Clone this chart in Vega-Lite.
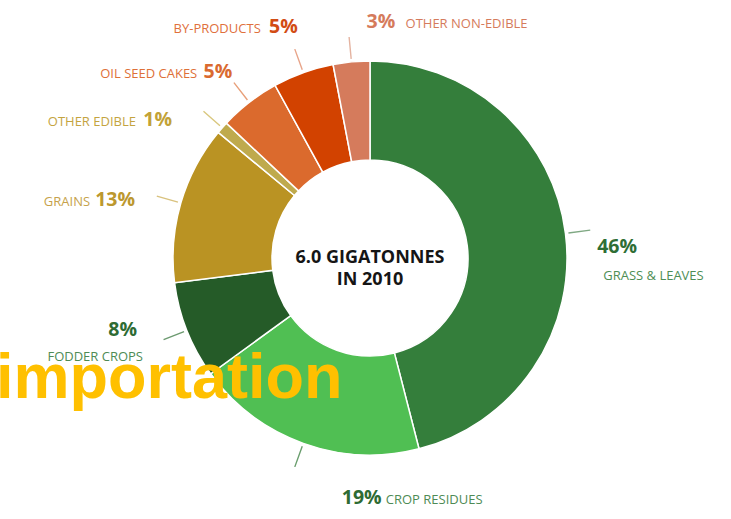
{
  "$schema": "https://vega.github.io/schema/vega-lite/v6.json",
  "width": 722,
  "height": 516,
  "autosize": {"type": "none"},
  "padding": {"left": 9, "top": 0, "right": 0, "bottom": 3},
  "background": "white",
  "config": {"view": {"stroke": null}},
  "title": {
    "text": "importation",
    "anchor": "start",
    "frame": "group",
    "orient": "top",
    "offset": 0,
    "baseline": "alphabetic",
    "dy": 461,
    "dx": -13,
    "font": "Liberation Sans",
    "fontWeight": "bold",
    "fontSize": 63,
    "color": "#FFC000"
  },
  "data": {
    "values": [
      {"cat": "GRASS & LEAVES", "pct": 46, "pctText": "46%", "idx": 1},
      {"cat": "CROP RESIDUES", "pct": 19, "pctText": "19%", "idx": 2},
      {"cat": "FODDER CROPS", "pct": 8, "pctText": "8%", "idx": 3},
      {"cat": "GRAINS", "pct": 13, "pctText": "13%", "idx": 4},
      {"cat": "OTHER EDIBLE", "pct": 1, "pctText": "1%", "idx": 5},
      {"cat": "OIL SEED CAKES", "pct": 5, "pctText": "5%", "idx": 6},
      {"cat": "BY-PRODUCTS", "pct": 5, "pctText": "5%", "idx": 7},
      {"cat": "OTHER NON-EDIBLE", "pct": 3, "pctText": "3%", "idx": 8}
    ]
  },
  "layer": [
    {
      "mark": {"type": "arc", "outerRadius": 197, "innerRadius": 98, "stroke": "white", "strokeWidth": 1.5},
      "encoding": {
        "theta": {"field": "pct", "type": "quantitative", "stack": true},
        "order": {"field": "idx", "type": "quantitative"},
        "color": {
          "field": "cat", "type": "nominal", "legend": null,
          "scale": {
            "domain": ["GRASS & LEAVES", "CROP RESIDUES", "FODDER CROPS", "GRAINS", "OTHER EDIBLE", "OIL SEED CAKES", "BY-PRODUCTS", "OTHER NON-EDIBLE"],
            "range": ["#347E3B", "#50BF53", "#255B28", "#BA9323", "#BFAA4D", "#DB6A2D", "#D24200", "#D57B5C"]
          }
        }
      }
    },
    {
      "mark": {"type": "arc", "filled": false, "padAngle": 3, "strokeWidth": 1.4},
      "encoding": {
        "theta": {"field": "pct", "type": "quantitative", "stack": true},
        "order": {"field": "idx", "type": "quantitative"},
        "radius": {"value": 222},
        "radius2": {"value": 200},
        "color": {
          "field": "cat", "type": "nominal", "legend": null,
          "scale": {
            "domain": ["GRASS & LEAVES", "CROP RESIDUES", "FODDER CROPS", "GRAINS", "OTHER EDIBLE", "OIL SEED CAKES", "BY-PRODUCTS", "OTHER NON-EDIBLE"],
            "range": ["#7FA883", "#6A9E6E", "#6C9A70", "#D9C27E", "#D9C77E", "#E8A07A", "#E8A58A", "#E4B3A0"]
          }
        }
      }
    },
    {
      "mark": {
        "type": "text",
        "radius": 228,
        "font": "Open Sans",
        "fontWeight": "bold",
        "fontSize": 19.5,
        "baseline": "alphabetic",
        "align": {"expr": "indexof(['GRASS & LEAVES','CROP RESIDUES','OTHER NON-EDIBLE'], datum.cat) >= 0 ? 'left' : 'right'"},
        "dx": {"expr": "({'GRASS & LEAVES': 1, 'CROP RESIDUES': 49, 'FODDER CROPS': -21, 'GRAINS': -16, 'OTHER EDIBLE': -27, 'OIL SEED CAKES': 2, 'BY-PRODUCTS': 5, 'OTHER NON-EDIBLE': 18})[datum.cat]"},
        "dy": {"expr": "({'GRASS & LEAVES': 24, 'CROP RESIDUES': 31, 'FODDER CROPS': -6, 'GRAINS': 12, 'OTHER EDIBLE': 19, 'OIL SEED CAKES': 0, 'BY-PRODUCTS': -10, 'OTHER NON-EDIBLE': -3})[datum.cat]"}
      },
      "encoding": {
        "theta": {"field": "pct", "type": "quantitative", "stack": true},
        "order": {"field": "idx", "type": "quantitative"},
        "text": {"field": "pctText"},
        "color": {
          "field": "cat", "type": "nominal", "legend": null,
          "scale": {
            "domain": ["GRASS & LEAVES", "CROP RESIDUES", "FODDER CROPS", "GRAINS", "OTHER EDIBLE", "OIL SEED CAKES", "BY-PRODUCTS", "OTHER NON-EDIBLE"],
            "range": ["#2F6E35", "#2E6B33", "#2E6B33", "#BC982F", "#C2A237", "#DA6A30", "#D24C14", "#D57B5C"]
          }
        }
      }
    },
    {
      "mark": {
        "type": "text",
        "radius": 228,
        "font": "Open Sans",
        "fontSize": 13,
        "baseline": "alphabetic",
        "align": {"expr": "indexof(['GRASS & LEAVES','CROP RESIDUES','OTHER NON-EDIBLE'], datum.cat) >= 0 ? 'left' : 'right'"},
        "dx": {"expr": "({'GRASS & LEAVES': 7, 'CROP RESIDUES': 93, 'FODDER CROPS': -15, 'GRAINS': -61, 'OTHER EDIBLE': -63, 'OIL SEED CAKES': -33, 'BY-PRODUCTS': -32, 'OTHER NON-EDIBLE': 57})[datum.cat]"},
        "dy": {"expr": "({'GRASS & LEAVES': 51, 'CROP RESIDUES': 31, 'FODDER CROPS': 19, 'GRAINS': 12, 'OTHER EDIBLE': 19, 'OIL SEED CAKES': 0, 'BY-PRODUCTS': -10, 'OTHER NON-EDIBLE': -3})[datum.cat]"}
      },
      "encoding": {
        "theta": {"field": "pct", "type": "quantitative", "stack": true},
        "order": {"field": "idx", "type": "quantitative"},
        "text": {"field": "cat"},
        "color": {
          "field": "cat", "type": "nominal", "legend": null,
          "scale": {
            "domain": ["GRASS & LEAVES", "CROP RESIDUES", "FODDER CROPS", "GRAINS", "OTHER EDIBLE", "OIL SEED CAKES", "BY-PRODUCTS", "OTHER NON-EDIBLE"],
            "range": ["#4E8E55", "#4E8B55", "#4E8B55", "#C6A24B", "#C4A43F", "#DE7038", "#E0703C", "#D57B5C"]
          }
        }
      }
    },
    {
      "data": {"values": [{"label": "center"}]},
      "mark": {
        "type": "text",
        "text": ["6.0 GIGATONNES", "IN 2010"],
        "font": "Open Sans",
        "fontWeight": "bold",
        "fontSize": 18,
        "lineHeight": 22,
        "baseline": "middle",
        "align": "center",
        "dy": 0,
        "color": "#151515"
      },
      "encoding": {}
    }
  ],
  "resolve": {"scale": {"color": "independent"}}
}
